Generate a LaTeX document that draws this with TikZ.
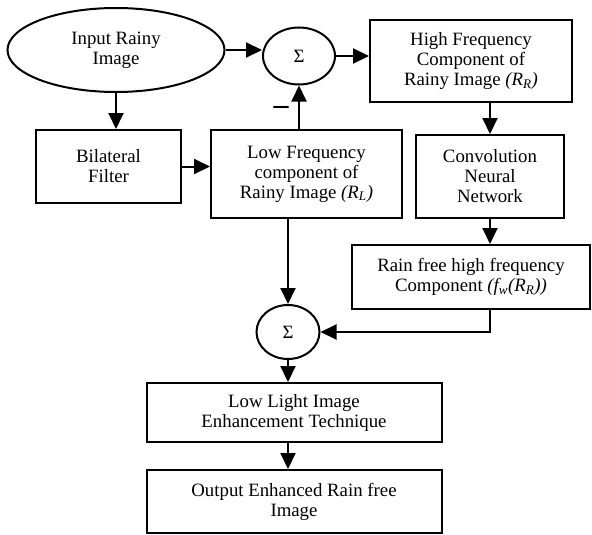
\documentclass[tikz,border=0pt]{standalone}
\usepackage{fontspec}
\setmainfont{Liberation Serif}
\usetikzlibrary{arrows.meta,shapes.geometric}

\begin{document}
\begin{tikzpicture}[x=1pt, y=-1pt,
    font=\fontsize{18.8}{20}\selectfont,
    every node/.style={align=center, inner sep=2pt},
    box/.style={draw, rectangle, line width=2pt},
    sumnode/.style={draw, ellipse, line width=2pt, inner sep=0pt},
    arr/.style={-{Triangle[length=16pt,width=15pt]}, line width=2pt}]
    \useasboundingbox (0,0) rectangle (592,535);

    \node[sumnode, minimum width=217pt, minimum height=84pt] (input) at (116,50) {Input Rainy\\Image};
    \node[sumnode, minimum width=72pt, minimum height=57pt] (sumA) at (299,56) {Σ};
    \node[box, minimum width=202pt, minimum height=82pt] (high) at (471,61) {High Frequency\\Component of\\Rainy Image \textit{(R\textsubscript{R})}};
    \node[box, minimum width=145pt, minimum height=73pt] (bilat) at (108.5,166.5) {Bilateral\\Filter};
    \node[box, minimum width=191pt, minimum height=88pt] (low) at (306.5,174) {Low Frequency\\component of\\Rainy Image \textit{(R\textsubscript{L})}};
    \node[box, minimum width=148pt, minimum height=83pt] (cnn) at (490,176.5) {Convolution\\Neural\\Network};
    \node[box, minimum width=238pt, minimum height=64pt] (rfree) at (471,277) {Rain free high frequency\\Component \textit{(f\textsubscript{w}(R\textsubscript{R}))}};
    \node[sumnode, minimum width=63pt, minimum height=54pt] (sumB) at (288,332) {Σ};
    \node[box, minimum width=295pt, minimum height=59pt] (llie) at (294,412.5) {Low Light Image\\Enhancement Technique};
    \node[box, minimum width=295pt, minimum height=63pt] (output) at (294,501.5) {Output Enhanced Rain free\\Image};
    \node[font=\fontsize{30}{30}\selectfont\bfseries] (minus) at (281,110) {–};

    \draw[arr] (input.east) -- (input.east -| sumA.west);
    \draw[arr] (sumA.east) -- (sumA.east -| high.west);
    \draw[arr] (input.south) -- (input.south |- bilat.north);
    \draw[arr] (bilat.east) -- (bilat.east -| low.west);
    \draw[arr] (sumA.south |- low.north) -- (sumA.south);
    \draw[arr] (cnn.north |- high.south) -- (cnn.north);
    \draw[arr] (cnn.south) -- (cnn.south |- rfree.north);
    \draw[arr] (sumB.north |- low.south) -- (sumB.north);
    \draw[arr] (rfree.south -| cnn.south) |- (sumB.east);
    \draw[arr] (sumB.south) -- (sumB.south |- llie.north);
    \draw[arr] (llie.south -| sumB.south) -- (output.north -| sumB.south);
\end{tikzpicture}
\end{document}
